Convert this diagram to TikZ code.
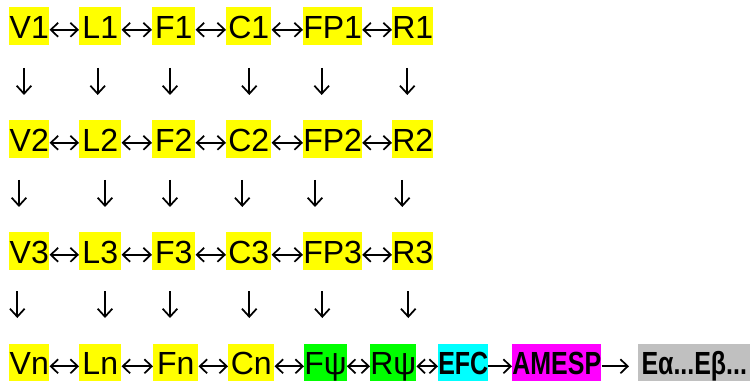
\documentclass[tikz,border=0pt]{standalone}
\usepackage{fontspec}
\setmainfont{Liberation Sans}
\newfontfamily\narrowbold{Liberation Sans}[FakeStretch=0.78,UprightFont=*-Bold]
\usetikzlibrary{arrows.meta}
\definecolor{hlyellow}{HTML}{FFFF00}
\definecolor{hlgreen}{HTML}{00FF00}
\definecolor{hlcyan}{HTML}{00FFFF}
\definecolor{hlmagenta}{HTML}{FF00FF}
\definecolor{hlgray}{HTML}{C0C0C0}
\begin{document}
\begin{tikzpicture}[x=0.75pt,y=-0.75pt,
  font=\fontsize{24}{29}\selectfont,
  hl/.style={anchor=north west, inner sep=0pt, text height=23.3pt, text depth=4.9pt, fill=hlyellow, align=center},
  hg/.style={hl, fill=hlgreen},
  hb/.style={hl, fill=#1, font=\fontsize{24}{29}\narrowbold},
  dbl/.style={{Straight Barb[length=5.5pt,width=10.5pt]}-{Straight Barb[length=5.5pt,width=10.5pt]}, line width=1.3pt},
  sgl/.style={-{Straight Barb[length=5.5pt,width=10.5pt]}, line width=1.3pt},
  dn/.style={-{Straight Barb[length=6pt,width=11pt]}, line width=1.3pt}]
\useasboundingbox (0,0) rectangle (750,381);
% rows 1-3
\foreach \r/\t in {1/7,2/120,3/232}{
  \node[hl, minimum width=30pt]    (V\r)  at (9,\t)   {V\r};
  \node[hl, minimum width=31.5pt]  (L\r)  at (79,\t)  {L\r};
  \node[hl, minimum width=32.25pt] (F\r)  at (152,\t) {F\r};
  \node[hl, minimum width=33.75pt] (C\r)  at (226,\t) {C\r};
  \node[hl, minimum width=43.5pt]  (FP\r) at (303,\t) {FP\r};
  \node[hl, minimum width=29.25pt] (R\r)  at (392,\t) {R\r};
  \draw[dbl] ([yshift=-2.8pt]V\r.east) -- ([yshift=-2.8pt]L\r.west);
  \draw[dbl] ([yshift=-2.8pt]L\r.east) -- ([yshift=-2.8pt]F\r.west);
  \draw[dbl] ([yshift=-2.8pt]F\r.east) -- ([yshift=-2.8pt]C\r.west);
  \draw[dbl] ([yshift=-2.8pt]C\r.east) -- ([yshift=-2.8pt]FP\r.west);
  \draw[dbl] ([yshift=-2.8pt]FP\r.east) -- ([yshift=-2.8pt]R\r.west);
}
% row 4
\node[hl, minimum width=30pt]    (Vn) at (9,343.5)   {Vn};
\node[hl, minimum width=31.5pt]  (Ln) at (79,343.5)  {Ln};
\node[hl, minimum width=33.75pt] (Fn) at (153,343.5) {Fn};
\node[hl, minimum width=34.5pt]  (Cn) at (228,343.5) {Cn};
\node[hg, minimum width=26.25pt] (Fpsi) at (304,343.5) {Fψ};
\node[hg, minimum width=28.5pt]  (Rpsi) at (370,343.5) {Rψ};
\node[hb=hlcyan, minimum width=33.75pt]    (EFC) at (438,343.5) {EFC};
\node[hb=hlmagenta, minimum width=66.75pt] (AMESP) at (512,343.5) {AMESP};
\node[hb=hlgray, minimum width=84pt]       (E) at (638,343.5) {Eα...Eβ...};
\draw[dbl] ([yshift=-2.8pt]Vn.east) -- ([yshift=-2.8pt]Ln.west);
\draw[dbl] ([yshift=-2.8pt]Ln.east) -- ([yshift=-2.8pt]Fn.west);
\draw[dbl] ([yshift=-2.8pt]Fn.east) -- ([yshift=-2.8pt]Cn.west);
\draw[dbl] ([yshift=-2.8pt]Cn.east) -- ([yshift=-2.8pt]Fpsi.west);
\draw[dbl] ([yshift=-2.8pt]Fpsi.east) -- ([yshift=-2.8pt]Rpsi.west);
\draw[dbl] ([yshift=-2.8pt]Rpsi.east) -- ([yshift=-2.8pt]EFC.west);
\draw[sgl] ([yshift=-2.8pt]EFC.east) -- ([yshift=-2.8pt]AMESP.west);
\draw[sgl] ([yshift=-2.8pt]AMESP.east) -- ([xshift=-6.75pt,yshift=-2.8pt]E.west);
% down arrows
\foreach \i/\x in {1/24,2/97.7,3/170,4/249.3,5/321.7,6/407.3}{
  \coordinate (ta\i) at (\x,68); \coordinate (ba\i) at (\x,95);
  \draw[dn] (ta\i) -- (ba\i);
}
\foreach \i/\x in {1/19,2/105,3/170,4/242.3,5/315,6/402.3}{
  \coordinate (tb\i) at (\x,180); \coordinate (bb\i) at (\x,207);
  \draw[dn] (tb\i) -- (bb\i);
}
\foreach \i/\x in {1/17.3,2/105,3/170,4/249.3,5/322.3,6/408.3}{
  \coordinate (tc\i) at (\x,291); \coordinate (bc\i) at (\x,318);
  \draw[dn] (tc\i) -- (bc\i);
}
\end{tikzpicture}
\end{document}
